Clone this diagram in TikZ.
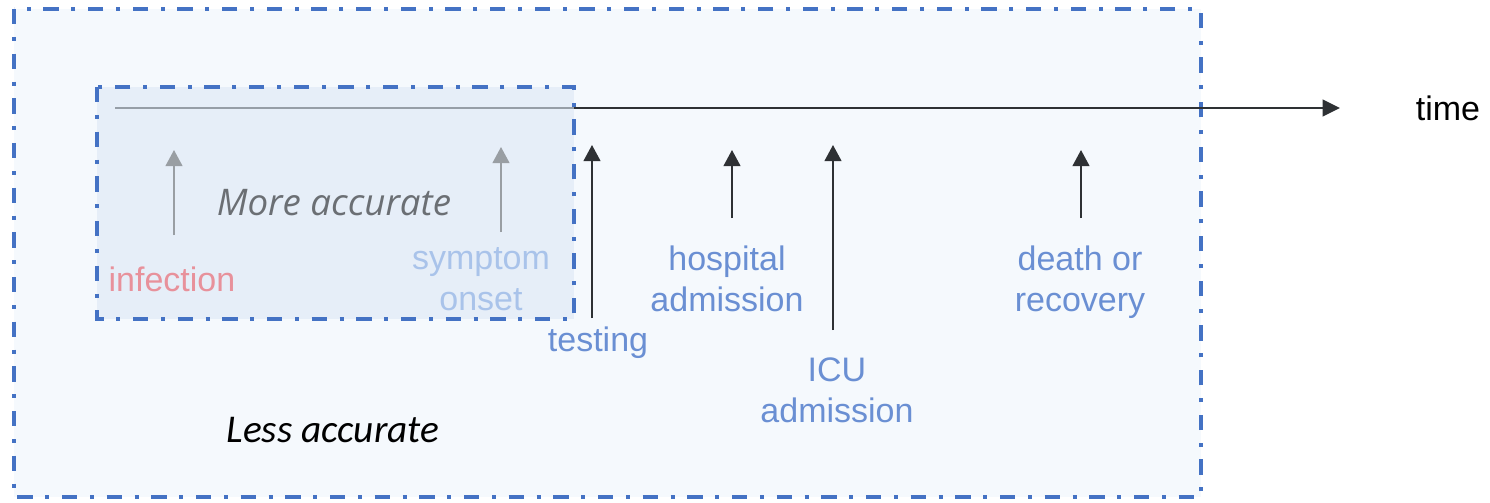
\documentclass[tikz,border=0pt]{standalone}
\usepackage{fontspec}
\setmainfont{Liberation Sans}
\newfontfamily\opensans{Open Sans}
\newfontfamily\carlito{Carlito}
\usetikzlibrary{arrows.meta}
\definecolor{boxblue}{HTML}{4472C4}
\definecolor{outerfill}{HTML}{F5F9FD}
\definecolor{innerfill}{HTML}{DCE7F5}
\definecolor{lblblue}{HTML}{6A8FD3}
\definecolor{lightblue}{HTML}{A9C3EA}
\definecolor{pinklbl}{HTML}{E8919B}
\definecolor{darkarrow}{HTML}{2E3134}
\definecolor{grayarrow}{HTML}{999EA3}
\definecolor{graytext}{HTML}{6B6F74}
\begin{document}
\begin{tikzpicture}[x=0.75pt,y=-0.75pt,
  dashdot/.style={draw=boxblue,line width=3pt,dash pattern=on 11.5pt off 9.5pt on 3pt off 9.5pt},
  lbl/.style={font=\fontsize{25.5}{31}\selectfont, text=lblblue, align=center, inner sep=0pt},
  evarrow/.style={draw=darkarrow,line width=1.5pt,-{Triangle[width=12.5pt,length=12pt]}},
  grayev/.style={evarrow,draw=grayarrow},
  timeline/.style={draw=darkarrow,line width=1.4pt,-{Triangle[width=12.5pt,length=13pt]}}
]
\useasboundingbox (0,0) rectangle (1490,503);
% outer box
\fill[outerfill] (14,9) rectangle (1201,497);
\draw[dashdot] (14,9) rectangle (1201,497);
% timeline
\coordinate (t0) at (115,108);
\coordinate (t1) at (1340,108);
\draw[timeline] (t0) -- (t1);
% inner box
\fill[innerfill,fill opacity=0.6] (97,87) rectangle (574,319);
\draw[dashdot] (97,87) rectangle (574,319);
% event arrows
\coordinate (infA) at (174,235); \coordinate (infB) at (174,150);
\coordinate (symA) at (501,232); \coordinate (symB) at (501,147);
\coordinate (tesA) at (592,318); \coordinate (tesB) at (592,145);
\coordinate (hosA) at (732,218); \coordinate (hosB) at (732,150);
\coordinate (icuA) at (833,330); \coordinate (icuB) at (833,145);
\coordinate (deaA) at (1081,218); \coordinate (deaB) at (1081,150);
\draw[grayev] (infA) -- (infB);
\draw[grayev] (symA) -- (symB);
\draw[evarrow] (tesA) -- (tesB);
\draw[evarrow] (hosA) -- (hosB);
\draw[evarrow] (icuA) -- (icuB);
\draw[evarrow] (deaA) -- (deaB);
% labels
\node[lbl,text=pinklbl] (inf) at (172,279) {infection};
\node[lbl,text=lightblue] (sym) at (481,279) {symptom\\onset};
\node[lbl] (test) at (598,343) {testing};
\node[lbl] (hosp) at (727,279) {hospital\\admission};
\node[lbl] (icu) at (837,390) {ICU\\admission};
\node[lbl] (death) at (1080,282) {death or\\recovery};
\node[font=\fontsize{25.5}{31}\selectfont,inner sep=0pt] (time) at (1448,108) {time};
\node[font=\opensans\itshape\fontsize{27.5}{33}\selectfont,text=graytext,inner sep=0pt] (more) at (334,203) {More accurate};
\node[font=\carlito\itshape\fontsize{29.5}{35}\selectfont,inner sep=0pt] (less) at (333,430) {Less accurate};
\end{tikzpicture}
\end{document}
